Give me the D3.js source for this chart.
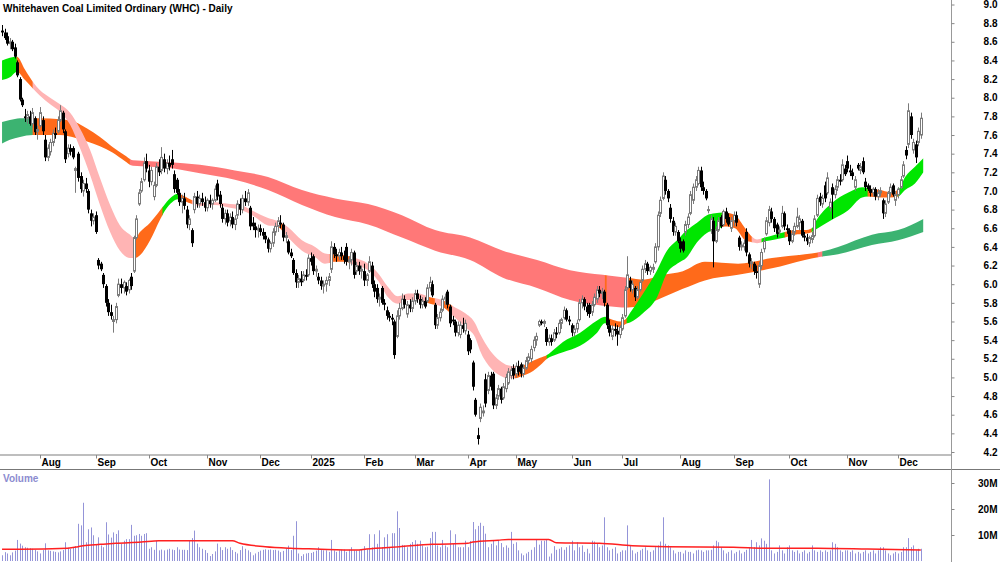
<!DOCTYPE html>
<html><head><meta charset="utf-8">
<script src="https://cdn.jsdelivr.net/npm/d3@7"></script>
<style>
body{margin:0;background:#fff}
svg{display:block}
text{font-family:"Liberation Sans",Arial,sans-serif}
</style>
</head><body>
<svg id="c" width="1000" height="562"></svg>
<script>
// ---------------- DATA ----------------
const title = "Whitehaven Coal Limited Ordinary (WHC) - Daily";
const opens = [
8.72,8.70,8.66,8.58,8.60,8.54,8.38,8.20,7.98,7.80,
7.78,7.80,7.72,7.78,7.64,7.70,7.76,7.55,7.36,7.42,
7.52,7.62,7.64,7.76,7.84,7.64,7.40,7.46,7.46,7.22,
7.40,7.16,7.00,7.08,7.00,6.76,6.68,6.74,6.26,6.22,
6.10,5.98,5.80,5.70,5.60,5.62,5.88,6.00,5.96,5.98,
5.94,6.08,6.14,6.50,6.86,7.00,7.12,7.32,7.22,7.10,
6.94,7.06,7.26,7.22,7.34,7.24,7.30,7.34,7.18,7.12,
6.98,6.88,6.92,6.80,6.64,6.58,6.80,6.94,6.86,6.92,
6.88,6.82,6.90,6.86,6.90,7.08,6.96,6.82,6.70,6.76,
6.68,6.72,6.64,6.74,6.86,6.80,6.92,6.88,6.82,6.66,
6.62,6.58,6.60,6.56,6.52,6.48,6.38,6.44,6.56,6.62,
6.66,6.64,6.50,6.46,6.34,6.26,6.12,6.02,6.06,6.04,
6.10,6.10,6.28,6.30,6.14,6.08,6.04,5.98,6.00,6.04,
6.16,6.40,6.32,6.30,6.34,6.30,6.40,6.24,6.26,6.34,
6.14,6.20,6.14,6.14,6.04,6.14,6.20,6.00,5.96,5.84,
5.96,5.80,5.72,5.66,5.64,5.60,5.44,5.66,5.74,5.84,
5.68,5.78,5.74,5.82,5.90,5.84,5.78,5.82,5.82,5.96,
6.00,5.78,5.56,5.64,5.72,5.84,5.92,5.76,5.62,5.60,
5.48,5.46,5.56,5.50,5.46,5.40,5.16,4.76,4.38,4.56,
4.62,4.98,4.86,5.02,5.04,4.70,4.80,4.88,4.78,4.88,
4.94,5.02,5.10,5.04,5.12,5.14,5.04,5.10,5.18,5.20,
5.32,5.40,5.56,5.60,5.58,5.52,5.38,5.42,5.40,5.48,
5.48,5.58,5.64,5.72,5.62,5.56,5.48,5.52,5.62,5.80,
5.84,5.76,5.78,5.70,5.78,5.84,5.94,5.90,5.92,5.78,
5.56,5.44,5.52,5.50,5.46,5.52,5.66,5.96,6.04,5.94,
5.96,5.86,5.94,6.04,6.16,6.22,6.14,6.16,6.24,6.40,
6.76,6.92,7.12,7.00,6.82,6.68,6.56,6.56,6.46,6.46,
6.56,6.64,6.76,6.90,7.04,7.08,7.22,7.04,7.00,6.80,
6.58,6.68,6.46,6.58,6.72,6.64,6.78,6.72,6.60,6.68,
6.74,6.50,6.40,6.40,6.56,6.32,6.22,6.22,6.14,6.00,
6.20,6.38,6.54,6.66,6.78,6.70,6.64,6.56,6.62,6.76,
6.60,6.58,6.46,6.56,6.62,6.66,6.68,6.52,6.50,6.44,
6.48,6.52,6.74,6.94,6.86,7.06,6.98,6.82,7.04,6.96,
7.04,7.12,7.12,7.24,7.32,7.22,7.20,7.04,7.28,7.22,
7.32,7.10,7.06,7.02,6.98,7.02,6.94,6.98,6.90,6.76,
6.88,6.98,7.06,6.90,6.96,7.04,7.16,7.44,7.50,7.80,
7.44,7.50,7.52,7.60];
const highs = [
8.78,8.74,8.70,8.64,8.62,8.58,8.40,8.22,8.00,7.88,
7.86,7.86,7.89,7.80,7.70,7.90,7.80,7.60,7.50,7.56,
7.66,7.68,7.80,7.92,7.86,7.66,7.50,7.50,7.48,7.26,
7.42,7.20,7.12,7.14,7.02,6.80,6.76,6.78,6.28,6.24,
6.12,6.00,5.84,5.78,5.66,5.80,6.06,6.06,6.04,6.02,
6.06,6.12,6.52,6.74,7.02,7.14,7.36,7.40,7.28,7.26,
7.10,7.30,7.34,7.47,7.40,7.34,7.38,7.44,7.22,7.14,
7.02,6.96,6.98,6.84,6.74,6.60,6.98,7.00,6.96,6.98,
6.94,6.92,6.96,6.92,7.06,7.12,7.00,6.86,6.80,6.80,
6.76,6.78,6.74,6.90,6.92,6.96,7.00,7.02,6.84,6.72,
6.66,6.64,6.64,6.60,6.56,6.50,6.46,6.60,6.66,6.72,
6.74,6.66,6.56,6.48,6.38,6.28,6.16,6.10,6.14,6.14,
6.16,6.32,6.34,6.32,6.20,6.12,6.08,6.04,6.08,6.12,
6.46,6.44,6.38,6.38,6.40,6.36,6.44,6.30,6.38,6.36,
6.24,6.24,6.20,6.22,6.12,6.30,6.24,6.04,6.00,5.90,
5.98,5.84,5.76,5.70,5.68,5.62,5.72,5.80,5.90,5.88,
5.82,5.84,5.86,5.94,5.94,5.88,5.86,5.86,6.00,6.08,
6.04,5.80,5.68,5.74,5.88,5.90,5.94,5.78,5.66,5.62,
5.60,5.60,5.64,5.62,5.50,5.42,5.18,4.78,4.46,4.72,
4.70,5.04,5.06,5.06,5.06,4.82,4.92,4.90,4.94,5.04,
5.10,5.12,5.14,5.16,5.18,5.16,5.14,5.22,5.26,5.34,
5.44,5.48,5.62,5.62,5.62,5.54,5.46,5.46,5.52,5.54,
5.62,5.64,5.76,5.74,5.66,5.58,5.56,5.62,5.84,5.88,
5.86,5.80,5.80,5.82,5.90,5.98,5.98,5.96,5.94,5.80,
5.62,5.56,5.58,5.56,5.56,5.68,5.98,6.30,6.08,6.04,
5.98,5.98,6.04,6.20,6.26,6.24,6.20,6.22,6.44,6.78,
6.94,7.20,7.16,7.02,6.86,6.72,6.66,6.58,6.50,6.48,
6.68,6.76,7.00,7.08,7.16,7.26,7.26,7.10,7.02,6.84,
6.74,6.72,6.62,6.72,6.74,6.80,6.82,6.76,6.72,6.78,
6.78,6.52,6.46,6.48,6.60,6.34,6.28,6.24,6.20,6.24,
6.38,6.50,6.72,6.84,6.82,6.72,6.66,6.62,6.84,6.78,
6.64,6.60,6.58,6.66,6.82,6.74,6.70,6.56,6.54,6.52,
6.56,6.74,6.96,6.98,6.96,7.10,7.20,6.92,7.08,7.06,
7.16,7.18,7.34,7.28,7.38,7.28,7.24,7.16,7.30,7.30,
7.36,7.14,7.08,7.06,7.04,7.04,7.02,7.04,6.92,6.90,
7.00,7.08,7.08,7.00,7.04,7.16,7.32,7.48,7.94,7.84,
7.56,7.54,7.68,7.84];
const lows = [
8.66,8.62,8.56,8.52,8.50,8.42,8.22,7.96,7.90,7.74,
7.72,7.70,7.68,7.60,7.55,7.68,7.60,7.32,7.32,7.38,
7.48,7.56,7.62,7.74,7.62,7.30,7.36,7.38,7.34,6.98,
7.10,6.98,6.94,6.98,6.76,6.62,6.64,6.54,6.16,6.14,
5.96,5.76,5.66,5.62,5.48,5.58,5.86,5.90,5.90,5.88,
5.90,5.94,6.12,6.48,6.84,6.98,7.10,7.20,7.04,7.06,
6.90,7.04,7.16,7.18,7.20,7.18,7.22,7.24,6.98,6.96,
6.84,6.76,6.80,6.60,6.58,6.40,6.76,6.82,6.82,6.84,
6.78,6.78,6.82,6.80,6.88,6.90,6.82,6.66,6.64,6.62,
6.62,6.60,6.58,6.70,6.74,6.76,6.84,6.84,6.58,6.58,
6.50,6.50,6.52,6.48,6.44,6.34,6.34,6.40,6.52,6.56,
6.60,6.46,6.44,6.32,6.28,6.10,5.96,5.96,5.98,6.02,
6.04,6.08,6.20,6.10,6.08,6.00,5.94,5.90,5.92,5.98,
6.12,6.28,6.24,6.26,6.26,6.22,6.20,6.16,6.20,6.06,
6.10,6.10,6.06,5.98,5.98,6.12,5.96,5.86,5.80,5.76,
5.78,5.72,5.62,5.60,5.56,5.20,5.42,5.62,5.72,5.74,
5.64,5.70,5.70,5.78,5.80,5.74,5.74,5.74,5.80,5.92,
5.86,5.52,5.52,5.60,5.70,5.78,5.74,5.54,5.56,5.44,
5.44,5.42,5.48,5.46,5.24,5.26,4.86,4.58,4.28,4.52,
4.58,4.68,4.82,4.86,4.66,4.66,4.76,4.72,4.76,4.84,
4.92,4.98,4.98,5.00,5.02,5.00,5.00,5.08,5.14,5.16,
5.28,5.34,5.54,5.56,5.54,5.34,5.34,5.34,5.38,5.42,
5.46,5.52,5.62,5.60,5.56,5.44,5.44,5.48,5.60,5.74,
5.72,5.66,5.64,5.66,5.76,5.80,5.86,5.84,5.76,5.52,
5.44,5.40,5.44,5.34,5.42,5.50,5.64,5.94,5.92,5.90,
5.82,5.84,5.92,6.02,6.12,6.10,6.10,6.12,6.22,6.36,
6.72,6.90,6.96,6.88,6.66,6.52,6.52,6.44,6.34,6.34,
6.52,6.60,6.74,6.86,7.00,7.06,7.00,6.96,6.90,6.76,
6.54,6.18,6.44,6.56,6.60,6.62,6.66,6.62,6.56,6.62,
6.62,6.36,6.36,6.36,6.30,6.18,6.16,6.10,6.06,5.96,
6.16,6.34,6.52,6.62,6.66,6.56,6.50,6.52,6.60,6.58,
6.54,6.42,6.44,6.52,6.60,6.58,6.50,6.46,6.42,6.40,
6.44,6.50,6.72,6.84,6.82,6.88,6.96,6.78,6.70,6.92,
7.00,7.06,7.10,7.16,7.20,7.16,7.12,7.00,7.22,7.18,
7.18,7.00,7.00,6.94,6.94,6.90,6.90,6.94,6.70,6.72,
6.86,6.94,6.94,6.84,6.92,7.02,7.14,7.34,7.46,7.56,
7.40,7.30,7.48,7.56];
const closes = [
8.70,8.64,8.58,8.60,8.52,8.44,8.24,7.98,7.92,7.78,
7.82,7.72,7.84,7.63,7.66,7.84,7.64,7.36,7.46,7.52,
7.62,7.60,7.76,7.86,7.66,7.34,7.46,7.42,7.36,7.24,
7.14,7.02,7.08,7.02,6.80,6.68,6.72,6.56,6.20,6.16,
6.00,5.80,5.70,5.66,5.62,5.76,6.00,5.96,6.02,5.92,
6.04,5.98,6.50,6.70,6.98,7.10,7.30,7.24,7.10,7.22,
7.06,7.26,7.20,7.36,7.24,7.30,7.26,7.28,7.02,6.98,
6.88,6.92,6.84,6.64,6.70,6.44,6.94,6.86,6.92,6.88,
6.82,6.90,6.86,6.90,7.02,6.94,6.86,6.70,6.76,6.66,
6.72,6.64,6.70,6.86,6.80,6.92,6.88,6.98,6.62,6.62,
6.58,6.60,6.56,6.52,6.48,6.38,6.44,6.56,6.62,6.68,
6.64,6.50,6.52,6.34,6.30,6.12,6.02,6.06,6.02,6.10,
6.08,6.28,6.24,6.14,6.16,6.04,5.98,6.00,6.04,6.08,
6.40,6.32,6.30,6.34,6.30,6.26,6.24,6.26,6.34,6.10,
6.20,6.14,6.16,6.04,6.10,6.24,6.00,5.92,5.84,5.86,
5.80,5.78,5.66,5.64,5.62,5.24,5.66,5.74,5.84,5.78,
5.78,5.74,5.82,5.90,5.84,5.78,5.82,5.76,5.96,6.02,
5.88,5.56,5.64,5.70,5.84,5.86,5.78,5.58,5.60,5.48,
5.56,5.56,5.52,5.58,5.28,5.30,4.90,4.60,4.34,4.68,
4.64,4.72,5.02,4.90,4.70,4.78,4.88,4.76,4.90,5.00,
5.06,5.08,5.02,5.12,5.06,5.04,5.10,5.18,5.22,5.30,
5.40,5.44,5.60,5.58,5.60,5.38,5.42,5.38,5.48,5.46,
5.58,5.62,5.72,5.62,5.60,5.48,5.52,5.58,5.80,5.84,
5.76,5.70,5.68,5.78,5.86,5.94,5.90,5.92,5.80,5.56,
5.48,5.52,5.50,5.46,5.54,5.64,5.94,6.10,5.96,6.00,
5.86,5.94,6.02,6.16,6.22,6.14,6.18,6.18,6.40,6.74,
6.90,7.16,7.00,6.92,6.70,6.56,6.62,6.46,6.38,6.36,
6.64,6.72,6.96,7.04,7.12,7.22,7.04,7.00,6.92,6.80,
6.70,6.46,6.58,6.68,6.62,6.78,6.70,6.64,6.68,6.74,
6.66,6.40,6.42,6.44,6.34,6.22,6.24,6.14,6.12,6.20,
6.34,6.46,6.68,6.80,6.70,6.60,6.54,6.58,6.76,6.62,
6.58,6.46,6.54,6.62,6.72,6.70,6.52,6.50,6.46,6.50,
6.52,6.70,6.92,6.88,6.92,6.92,7.14,6.88,6.96,7.02,
7.12,7.10,7.28,7.18,7.24,7.20,7.16,7.12,7.24,7.26,
7.20,7.04,7.02,6.98,7.02,6.94,6.98,7.00,6.76,6.86,
6.98,7.04,6.96,6.96,7.02,7.12,7.28,7.38,7.86,7.60,
7.52,7.36,7.64,7.78];
// volume, millions
const volumes = [
2.2,3.4,2.9,2.2,3.3,4.0,8.1,6.7,5.9,5.3,5.1,4.9,4.7,4.3,3.7,
2.9,4.2,6.8,4.1,3.9,3.7,3.5,3.3,3.7,4.2,7.2,5.1,4.7,5.3,5.7,14.3,13.7,22.4,7.2,12.2,12.9,9.9,
6.5,9.1,6.0,5.3,14.9,10.2,9.0,11.0,10.4,11.8,6.6,7.8,8.4,8.4,13.9,9.7,9.9,10.4,9.7,10.4,10.7,
4.7,5.3,4.3,7.8,4.1,4.4,4.1,4.4,4.7,4.4,4.2,5.3,4.4,4.3,4.3,4.2,7.8,8.8,11.7,6.7,5.3,4.7,4.2,
3.1,1.9,2.7,3.7,6.7,5.3,4.2,5.3,4.7,5.3,4.2,3.5,2.9,4.2,5.7,4.7,4.1,3.4,2.2,2.9,3.5,
4.0,4.3,4.5,4.3,4.4,4.2,4.3,4.0,3.4,3.9,4.9,5.9,4.2,9.7,15.3,2.9,1.9,2.6,2.9,3.1,
3.1,3.5,4.0,5.3,4.2,4.1,4.1,3.5,8.1,4.1,3.5,4.1,4.3,4.4,3.5,4.3,5.3,4.1,4.0,4.1,4.6,
5.7,4.5,10.3,5.2,10.3,6.6,11.8,5.3,9.1,10.3,5.3,10.7,10.7,19.1,12.7,6.2,6.0,5.3,6.6,7.3,
8.0,6.6,7.8,6.0,5.3,5.5,8.8,11.2,11.2,6.0,5.3,8.1,6.0,5.3,11.8,6.6,10.3,5.3,5.3,5.3,7.8,
5.3,7.7,15.0,12.2,13.5,14.7,13.5,10.5,5.3,6.6,7.8,6.0,7.8,6.9,5.3,6.0,5.1,11.2,6.6,
7.2,4.1,2.9,2.2,2.9,3.5,4.3,5.3,8.4,6.3,7.8,7.8,8.4,1.7,2.9,5.7,4.3,4.7,5.3,4.3,5.3,6.0,
7.8,4.1,7.2,5.3,6.0,3.5,4.7,2.9,7.8,7.5,6.6,5.3,6.0,16.8,5.3,4.1,4.7,5.3,2.9,3.5,
4.1,4.1,13.7,6.0,4.1,2.9,3.5,4.1,4.7,5.3,4.1,3.5,4.1,5.3,6.0,7.5,16.8,6.6,6.0,5.3,4.1,2.9,3.5,
3.5,2.9,4.1,3.5,3.5,2.9,4.1,4.3,4.1,3.5,4.1,4.1,4.3,6.0,7.8,7.2,5.3,4.1,2.9,3.5,4.1,
2.9,3.5,4.1,2.9,3.5,4.3,5.3,8.1,5.3,7.2,6.0,8.7,7.8,6.6,31.4,4.1,2.9,3.5,6.0,4.1,2.9,5.3,
6.0,4.1,3.5,4.1,2.9,3.5,4.1,2.9,3.5,6.0,4.1,3.5,4.1,3.5,4.1,3.5,4.1,7.2,6.6,5.3,4.1,3.5,4.1,
4.1,3.5,4.1,2.9,3.5,2.9,3.5,4.1,2.9,3.5,4.1,2.9,4.1,5.3,5.3,4.1,2.9,2.2,2.9,3.5,
2.9,3.5,5.3,5.3,8.8,5.3,6.0,4.1,4.7,4.7];
// volume moving average (millions) read at sample bars
const volMaIdx = [0,7,26,30,32,39,45,55,62,91,94,104,114,124,140,144,157,170,184,186,196,200,216,219,236,249,263,289,302,322,342,363];
const volMaVal = [4.5,4.5,4.9,5.5,5.9,6.4,6.8,7.3,7.8,7.8,6.8,5.5,4.9,4.6,4.2,4.6,5.5,6.4,6.8,7.3,8.0,8.3,8.3,7.0,6.8,5.9,5.5,5.3,4.9,4.9,4.6,4.2];

// short-term ribbon (bar index, upper, lower)
const shortIdx = [0,3.1,5.9,9.1,12.2,15,19,22.9,26.9,30.8,34.8,38.7,42.7,46.6,50.6,52.5,54.5,58.5,62.4,64.4,67.2,69.5,72.3,75.1,78.2,84.1,90.1,94,98.8,105.1,108.6,113,118.5,123.7,127.6,131.6,135.5,139.5,144.6,148.5,152.5,156.4,160.4,164.3,169.1,173.8,179,182.9,186.9,188.8,192.8,196.7,199.9,202.7,205.8,209.8,212.6,215.3,218.5,221.6,228.4,235.1,238.2,240.2,244.2,246.9,248.1,253.3,258.8,262.7,266.7,270.6,274.6,278.5,281.7,285.6,289.6,293.6,296.3,298.3,301.4,305.4,309.3,313.3,317.2,320,321.2,327.9,334.2,339.8,342.1,346.9,350.8,354,356.8,360.7,364];
const shortTop = [8.40,8.43,8.44,8.30,8.17,8.08,8.00,7.93,7.84,7.67,7.44,7.14,6.85,6.63,6.53,6.49,6.56,6.66,6.79,6.86,6.94,6.97,6.94,6.90,6.87,6.88,6.86,6.85,6.79,6.71,6.68,6.61,6.47,6.40,6.33,6.32,6.31,6.28,6.22,6.12,5.97,5.87,5.90,5.90,5.86,5.83,5.75,5.69,5.58,5.47,5.29,5.18,5.13,5.12,5.13,5.18,5.21,5.24,5.31,5.38,5.48,5.61,5.65,5.63,5.60,5.64,5.69,5.90,6.15,6.36,6.47,6.58,6.66,6.74,6.76,6.77,6.74,6.60,6.51,6.48,6.50,6.53,6.56,6.58,6.58,6.60,6.66,6.87,6.98,7.04,7.03,7.01,6.99,7.01,7.15,7.26,7.35];
const shortBot = [8.19,8.22,8.28,8.19,8.10,8.02,7.93,7.85,7.71,7.46,7.17,6.85,6.56,6.36,6.28,6.28,6.31,6.47,6.69,6.79,6.88,6.91,6.89,6.86,6.84,6.85,6.82,6.80,6.74,6.63,6.62,6.50,6.36,6.29,6.22,6.24,6.24,6.20,6.15,6.04,5.86,5.79,5.83,5.83,5.79,5.76,5.64,5.54,5.43,5.29,5.11,5.02,4.99,4.99,5.02,5.07,5.13,5.20,5.24,5.27,5.34,5.48,5.58,5.56,5.54,5.58,5.59,5.69,5.86,6.12,6.22,6.29,6.45,6.55,6.58,6.62,6.60,6.47,6.45,6.44,6.46,6.48,6.50,6.53,6.54,6.56,6.58,6.69,6.79,6.93,6.94,6.93,6.93,6.94,7.01,7.08,7.20];
const shortSegStart = [0,5.9,12.2,52.5,63.5,69.6,75.1,93.2,95.2,109,111,129.6,137.5,167.9,171.1,174.2,177.8,202.7,215.3,239,246.9,284.5,296.3,300.2,309.3,320,342.1,354];
const shortSegState = ["up","mixed","down","mixed","up","mixed","down","mixed","down","mixed","down","mixed","down","mixed","down","mixed","down","mixed","up","mixed","up","mixed","down","up","mixed","up","mixed","up"];

// long-term ribbon
const longIdx = [0,3.1,7.1,12.2,15,22.9,28.8,33.6,38.7,43.8,48.6,51.7,58.5,65.2,78.2,92,105.1,118.5,131.6,144.6,158,171.1,184.9,197.9,211.4,224.4,237.4,246.9,254,261.2,269,277.7,290.8,304.2,317.2,322.4,330.3,343.7,354,364];
const longTop = [7.74,7.76,7.78,7.78,7.78,7.77,7.74,7.67,7.58,7.47,7.38,7.33,7.32,7.31,7.28,7.22,7.15,7.01,6.92,6.86,6.74,6.58,6.50,6.36,6.26,6.15,6.10,6.07,6.05,6.10,6.14,6.24,6.22,6.28,6.32,6.34,6.40,6.53,6.58,6.70];
const longBot = [7.51,7.55,7.58,7.60,7.60,7.60,7.57,7.53,7.48,7.41,7.32,7.27,7.26,7.25,7.19,7.12,7.01,6.85,6.72,6.64,6.50,6.36,6.26,6.07,5.96,5.83,5.77,5.75,5.78,5.86,5.95,6.04,6.10,6.17,6.26,6.29,6.32,6.42,6.47,6.56];
const longSegStart = [0,12.2,50.6,238.3,239.0,247.3,322.4,324.2];
const longSegState = ["up","mixed","down","mixed","down","mixed","down","up"];

const priceTicks = [4.2,4.4,4.6,4.8,5.0,5.2,5.4,5.6,5.8,6.0,6.2,6.4,6.6,6.8,7.0,7.2,7.4,7.6,7.8,8.0,8.2,8.4,8.6,8.8,9.0];
const volTicks = [10,20,30];
const volTickLabels = ["10M","20M","30M"];
const monthIdx = [15,37,58,81,102,122,143,163,184,203,225,245,268,289,311,334,354];
const monthLabels = ["Aug","Sep","Oct","Nov","Dec","2025","Feb","Mar","Apr","May","Jun","Jul","Aug","Sep","Oct","Nov","Dec"];

// ---------------- DRAW ----------------
const svg = d3.select("#c");
const FONT = "'Liberation Sans',Arial,sans-serif";
const axisX = 951.5;
const x = d3.scaleLinear().domain([0, 363]).range([2.04, 920.8]);
const y = d3.scaleLinear().domain([4.2, 9.0]).range([452, 4.5]);
const yv = d3.scaleLinear().domain([0, 30]).range([561, 483]);

const shortColors = {up:"#00e600", mixed:"#ff6a1a", down:"#ffb4b4"};
const longColors = {up:"#3cb371", mixed:"#ff6a1a", down:"#ff7878"};
const defs = svg.append("defs");

function ribbon(idx, top, bot, segStart, segState, palette, id) {
  const data = idx.map((d, k) => ({i: d, t: top[k], b: bot[k]}));
  const area = d3.area().x(d => x(d.i)).y0(d => y(d.b)).y1(d => y(d.t)).curve(d3.curveMonotoneX);
  const dstr = area(data);
  const g = svg.append("g");
  segStart.forEach((s, k) => {
    const e = k < segStart.length - 1 ? segStart[k + 1] : idx[idx.length - 1];
    const cid = id + k;
    defs.append("clipPath").attr("id", cid).append("rect")
      .attr("x", x(s) - 0.3).attr("y", 0).attr("width", x(e) - x(s) + 0.6).attr("height", 455);
    g.append("path").attr("d", dstr).attr("fill", palette[segState[k]]).attr("clip-path", `url(#${cid})`);
  });
}
ribbon(longIdx, longTop, longBot, longSegStart, longSegState, longColors, "lr");
ribbon(shortIdx, shortTop, shortBot, shortSegStart, shortSegState, shortColors, "sr");

// candles
const candles = closes.map((c, i) => ({i, o: opens[i], h: highs[i], l: lows[i], c}));
const cg = svg.append("g").selectAll("g").data(candles).join("g");
cg.append("line")
  .attr("x1", d => Math.round(x(d.i)) + 0.5).attr("x2", d => Math.round(x(d.i)) + 0.5)
  .attr("y1", d => y(d.h)).attr("y2", d => y(d.l))
  .attr("stroke", d => d.c >= d.o ? "#7a7a7a" : "#000").attr("stroke-width", 1);
cg.filter(d => d.c >= d.o).append("rect")
  .attr("x", d => Math.round(x(d.i)) - 0.5).attr("width", 2)
  .attr("y", d => y(d.c)).attr("height", d => Math.max(1, y(d.o) - y(d.c)))
  .attr("fill", "#fff").attr("stroke", "#7a7a7a").attr("stroke-width", 1);
cg.filter(d => d.c < d.o).append("rect")
  .attr("x", d => Math.round(x(d.i)) - 1).attr("width", 3)
  .attr("y", d => y(d.o)).attr("height", d => Math.max(1, y(d.c) - y(d.o)))
  .attr("fill", "#000");

// title
svg.append("text").attr("x", 3).attr("y", 12).text(title)
  .attr("font-size", "10px").attr("font-weight", "bold").attr("fill", "#000")
  .attr("font-family", FONT);

// frame lines
svg.append("line").attr("x1", 0).attr("x2", axisX).attr("y1", 455).attr("y2", 455)
  .attr("stroke", "#a8a8a8").attr("stroke-width", 1.5);
svg.append("line").attr("x1", 0).attr("x2", 1000).attr("y1", 469.5).attr("y2", 469.5)
  .attr("stroke", "#777").attr("stroke-width", 1);
svg.append("line").attr("x1", axisX).attr("x2", axisX).attr("y1", 0).attr("y2", 562)
  .attr("stroke", "#999").attr("stroke-width", 1);

// month ticks
const mg = svg.append("g");
monthIdx.forEach((mi, k) => {
  const px = Math.round(x(mi)) + 0.5;
  mg.append("line").attr("x1", px).attr("x2", px).attr("y1", 455).attr("y2", 458.5)
    .attr("stroke", "#888");
  mg.append("text").attr("x", px + 1).attr("y", 466).text(monthLabels[k])
    .attr("font-size", "10px").attr("font-weight", "bold").attr("fill", "#000").attr("font-family", FONT);
});

// price axis
const ga = svg.append("g").attr("transform", `translate(${axisX},0)`)
  .call(d3.axisRight(y).tickValues(priceTicks).tickFormat(d3.format(".1f")).tickSize(3));
ga.select(".domain").remove();
ga.selectAll(".tick line").attr("stroke", "#888");
ga.selectAll(".tick text").attr("x", 46).attr("text-anchor", "end")
  .attr("font-size", "10px").attr("font-weight", "bold").attr("fill", "#000").attr("font-family", FONT);

// volume axis
const gv = svg.append("g").attr("transform", `translate(${axisX},0)`)
  .call(d3.axisRight(yv).tickValues(volTicks).tickFormat((d, k) => volTickLabels[k]).tickSize(3));
gv.select(".domain").remove();
gv.selectAll(".tick line").attr("stroke", "#888");
gv.selectAll(".tick text").attr("x", 46).attr("text-anchor", "end")
  .attr("font-size", "10px").attr("font-weight", "bold").attr("fill", "#000").attr("font-family", FONT);

// volume label
svg.append("text").attr("x", 3).attr("y", 482).text("Volume")
  .attr("font-size", "10px").attr("font-weight", "bold").attr("fill", "#8c8cd0").attr("font-family", FONT);

// volume bars
svg.append("g").selectAll("line").data(volumes).join("line")
  .attr("x1", (d, i) => Math.round(x(i)) + 0.5).attr("x2", (d, i) => Math.round(x(i)) + 0.5)
  .attr("y1", yv(0)).attr("y2", d => yv(d))
  .attr("stroke", "#9494d8").attr("stroke-width", 1);

// volume MA
const maData = volMaIdx.map((d, k) => [d, volMaVal[k]]);
svg.append("path").attr("d", d3.line().x(d => x(d[0])).y(d => yv(d[1])).curve(d3.curveMonotoneX)(maData))
  .attr("fill", "none").attr("stroke", "#ff2020").attr("stroke-width", 1.5);
</script>
</body></html>
